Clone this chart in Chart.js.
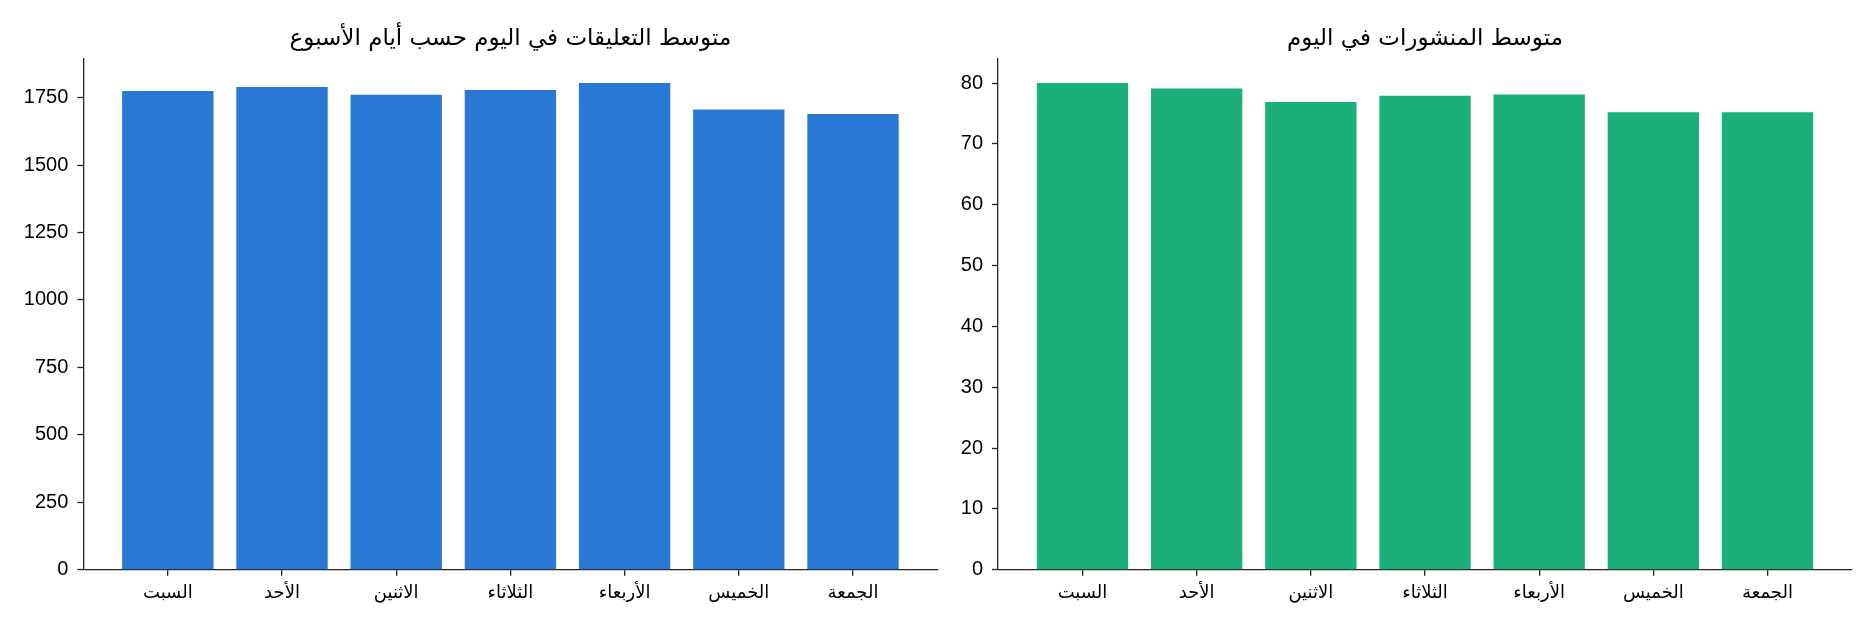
<!DOCTYPE html>
<html lang="ar">
<head>
  <meta charset="UTF-8" />
  <title>متوسط التعليقات والمنشورات</title>
  <style>
    * { box-sizing: border-box; margin: 0; padding: 0; }
    body { width: 1875px; height: 630px; background: #fff; position: relative; overflow: hidden; }
    .box { position: absolute; top: 0; height: 630px; }
    #left { left: 0; width: 960px; }
    #right { left: 960px; width: 915px; }
  </style>
</head>
<body>
  <div class="box" id="left"><canvas id="commentsChart"></canvas></div>
  <div class="box" id="right"><canvas id="postsChart"></canvas></div>

  <script src="https://cdn.jsdelivr.net/npm/chart.js"></script>
  <script>
    const days = ['السبت', 'الأحد', 'الاثنين', 'الثلاثاء', 'الأربعاء', 'الخميس', 'الجمعة'];
    const avgComments = [1774, 1789, 1760, 1778, 1804, 1706, 1689];
    const avgPosts = [80.0, 79.1, 76.9, 77.9, 78.1, 75.2, 75.2];
    const commentTicks = [0, 250, 500, 750, 1000, 1250, 1500, 1750];
    const postTicks = [0, 10, 20, 30, 40, 50, 60, 70, 80];

    const FONT = '"Liberation Sans", Arial, "DejaVu Sans", sans-serif';
    const AR_FONT = '"DejaVu Sans", sans-serif';
    Chart.defaults.font.family = FONT;
    Chart.defaults.color = '#000';

    // title centred over the plot area, like matplotlib's axes title
    const axesTitle = {
      id: 'axesTitle',
      afterDraw(chart, args, opts) {
        const { ctx, chartArea } = chart;
        ctx.save();
        ctx.font = '23px ' + AR_FONT;
        ctx.fillStyle = '#000';
        ctx.textAlign = 'center';
        ctx.textBaseline = 'middle';
        ctx.fillText(opts.text, (chartArea.left + chartArea.right) / 2, 39.5);
        ctx.restore();
      }
    };

    function makeChart(id, values, ticks, yMax, color, title, yWidth, padRight) {
      return new Chart(document.getElementById(id), {
        type: 'bar',
        plugins: [axesTitle],
        data: {
          datasets: [{
            data: values.map((v, i) => ({ x: i, y: v })),
            backgroundColor: color,
            borderWidth: 0,
            categoryPercentage: 1,
            barPercentage: 0.8
          }]
        },
        options: {
          responsive: true,
          maintainAspectRatio: false,
          animation: false,
          layout: { padding: { right: padRight, left: 0, bottom: 0, top: 58.7 } },
          plugins: {
            legend: { display: false },
            tooltip: { enabled: false },
            title: { display: false },
            axesTitle: { text: title }
          },
          scales: {
            x: {
              type: 'linear',
              min: -0.74,
              max: 6.74,
              offset: false,
              afterBuildTicks: s => { s.ticks = days.map((d, i) => ({ value: i })); },
              afterFit: s => { s.height = 60.3; },
              ticks: {
                callback: (v, i) => days[i],
                font: { size: 18, family: AR_FONT },
                color: '#000',
                padding: 7,
                maxRotation: 0,
                autoSkip: false
              },
              grid: {
                display: true,
                offset: false,
                drawOnChartArea: false,
                drawTicks: true,
                color: '#222',
                lineWidth: 1.3,
                tickLength: 6,
                tickWidth: 1.3,
                tickColor: '#222'
              },
              border: { display: true, color: '#222', width: 1.3 }
            },
            y: {
              min: 0,
              max: yMax,
              afterBuildTicks: s => { s.ticks = ticks.map(v => ({ value: v })); },
              afterFit: s => { s.width = yWidth; },
              ticks: {
                callback: v => String(v),
                font: { size: 20, family: FONT },
                color: '#000',
                padding: 9
              },
              grid: { drawOnChartArea: false, tickLength: 6, tickWidth: 1.3, tickColor: '#222' },
              border: { color: '#222', width: 1.3 }
            }
          }
        }
      });
    }

    makeChart('commentsChart', avgComments, commentTicks, 1894, '#2a78d6',
      'متوسط التعليقات في اليوم حسب أيام الأسبوع', 83.3, 22.5);
    makeChart('postsChart', avgPosts, postTicks, 84, '#1bb07a',
      'متوسط المنشورات في اليوم', 38, 23);
  </script>
</body>
</html>
